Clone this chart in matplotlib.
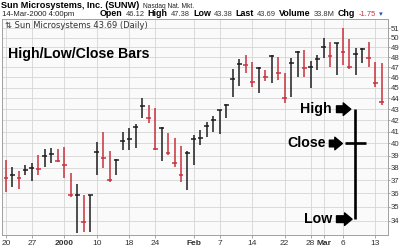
import matplotlib
matplotlib.use('Agg')
import matplotlib.pyplot as plt
from matplotlib.ticker import FixedLocator, NullLocator, NullFormatter

# daily high / low / close, Dec 20 1999 .. Mar 14 2000 (trading days)
highs = [38.65, 38.07, 37.72, 38.23, 38.37, 39.03, 39.57, 39.66, 39.57, 39.70,
         37.62, 36.75, 35.85, 35.90, 40.16, 40.95, 39.35, 38.74, 41.00, 41.30,
         41.66, 44.00, 43.37, 43.07, 41.39, 40.92, 40.44, 39.77, 39.35, 40.73,
         41.14, 41.86, 42.43, 42.97, 43.50, 46.77, 47.77, 48.20, 47.50, 47.03,
         46.70, 48.20, 48.03, 46.38, 47.87, 48.65, 48.72, 47.63, 48.25, 49.93,
         49.58, 49.47, 51.00, 49.85, 48.90, 48.90, 49.58, 47.50, 47.38]
lows = [36.10, 36.50, 36.37, 37.46, 36.97, 37.40, 38.07, 38.36, 38.44, 37.20,
        35.75, 33.10, 33.20, 33.20, 37.40, 37.98, 36.88, 37.40, 39.43, 39.43,
        39.65, 42.20, 41.73, 39.43, 38.56, 39.05, 38.07, 36.88, 36.23, 38.20,
        39.90, 40.56, 40.98, 40.84, 42.25, 44.10, 45.15, 46.40, 45.05, 44.47,
        45.63, 45.40, 45.72, 43.60, 44.10, 46.05, 46.05, 44.93, 46.70, 47.87,
        47.03, 46.19, 47.20, 46.77, 46.20, 47.40, 47.03, 45.05, 43.38]
closes = [37.17, 37.40, 37.20, 37.86, 37.96, 37.90, 38.95, 39.10, 38.56, 38.20,
          35.85, 35.90, 33.93, 35.90, 39.26, 38.80, 37.06, 38.66, 40.20, 40.37,
          41.43, 43.30, 42.17, 39.50, 41.30, 39.20, 38.40, 37.46, 39.20, 40.37,
          40.50, 41.48, 42.00, 42.90, 43.37, 45.80, 47.30, 47.20, 45.55, 46.87,
          46.05, 48.10, 46.38, 44.00, 47.37, 48.49, 46.87, 47.03, 47.77, 49.05,
          48.10, 49.41, 48.55, 47.03, 48.30, 48.80, 47.95, 45.44, 43.69]
prev_close = 37.50

tick_days = [0, 4, 9, 14, 19, 23, 29, 33, 38, 43, 47, 49, 52, 57]
tick_labels = ['20', '27', '2000', '10', '18', '24', 'Feb', '7', '14', '22', '28', 'Mar', '6', '13']
bold_labels = ['2000', 'Feb', 'Mar']
price_ticks = list(range(34, 52))

# example bar
ex_high, ex_close, ex_low = 43, 40, 34.1

RED = '#c8323c'
BLK = '#1e1e1e'
FONT = ['Liberation Sans', 'DejaVu Sans']

fig = plt.figure(figsize=(4, 2.5), dpi=100)
ax = fig.add_axes([2/400, 15/250, 385.7/400, 216/250])
ax.set_facecolor('#fafafa')

x = list(range(len(closes)))
colors = []
last = prev_close
for c in closes:
    colors.append(BLK if c >= last else RED)
    last = c

ax.vlines(x, lows, highs, colors=colors, linewidth=1.1)
ax.hlines(closes, [i - 0.38 for i in x], [i + 0.38 for i in x], colors=colors, linewidth=1.1)

ax.set_yscale('log')
ax.set_xlim(-0.62, 58.9)
ax.set_ylim(32.98, 52.01)

ax.yaxis.tick_right()
ax.yaxis.set_major_locator(FixedLocator(price_ticks))
ax.yaxis.set_minor_locator(NullLocator())
ax.yaxis.set_minor_formatter(NullFormatter())
ax.set_yticklabels([str(p) for p in price_ticks], family=FONT)
ax.set_xticks(tick_days)
ax.set_xticklabels(tick_labels, family=FONT)
for lab in ax.get_xticklabels():
    if lab.get_text() in bold_labels:
        lab.set_fontweight('bold')
ax.tick_params(axis='both', labelsize=6, length=2, width=0.6, pad=1.5,
               colors='#999999', labelcolor='#333333')
ax.tick_params(axis='y', labelsize=5.6, length=1.5, pad=0.8)
ax.grid(True, color='#d6d6d6', linewidth=0.6)
ax.set_axisbelow(True)
for s in ax.spines.values():
    s.set_color('#a0a0a0')
    s.set_linewidth(0.7)

# in-chart legend and caption
ax.text(0.008, 0.99, '\u21c5 Sun Microsystems 43.69 (Daily)', transform=ax.transAxes,
        fontsize=6.0, color='#333333', va='top', ha='left', family='DejaVu Sans')
ax.text(0.015, 0.84, 'High/Low/Close Bars', transform=ax.transAxes,
        fontsize=10.2, fontweight='bold', color='black', va='center', family=FONT)

# example bar with labels
ax.vlines(53.9, ex_low, ex_high, colors='black', linewidth=1.9)
ax.hlines(ex_close, 52.3, 55.5, colors='black', linewidth=1.9)
arrow = dict(arrowstyle='simple,head_length=0.45,head_width=0.75,tail_width=0.4',
             color='black', mutation_scale=12, shrinkA=0, shrinkB=0)
for label, y, x0, x1, xt in [('High', ex_high, 51.0, 53.2, 50.3),
                             ('Close', ex_close, 49.9, 51.9, 49.3),
                             ('Low', ex_low, 51.0, 53.4, 50.3)]:
    ax.annotate('', xy=(x1, y), xytext=(x0, y), arrowprops=arrow)
    ax.text(xt, y, label, fontsize=10.2, fontweight='bold', ha='right', va='center', family=FONT)


def chain(parts, x0, y0, gap=2.0):
    prev = None
    for txt, bold, col, size in parts:
        kw = dict(fontsize=size, fontweight='bold' if bold else 'normal', color=col,
                  family=FONT, va='bottom', ha='left', annotation_clip=False)
        if prev is None:
            prev = ax.annotate(txt, (x0, y0), xycoords='figure pixels', **kw)
        else:
            prev = ax.annotate(txt, (1, 0), xycoords=prev, xytext=(gap, 0),
                               textcoords='offset points', **kw)


# header lines
chain([('Sun Microsystems, Inc. (SUNW)', True, 'black', 6.6),
       ('Nasdaq Nat. Mkt.', False, '#222222', 4.8)], 1, 240, gap=3)
chain([('14-Mar-2000 4:00pm', False, '#222222', 5.6)], 2, 232)
chain([('Open', True, 'black', 6.4), ('46.12', False, '#333333', 5.4),
       ('High', True, 'black', 6.4), ('47.38', False, '#333333', 5.4),
       ('Low', True, 'black', 6.4), ('43.38', False, '#333333', 5.4),
       ('Last', True, 'black', 6.4), ('43.69', False, '#333333', 5.4),
       ('Volume', True, 'black', 6.4), ('33.8M', False, '#333333', 5.4),
       ('Chg', True, 'black', 6.4), ('-1.75', False, '#c8323c', 5.4),
       ('\u25be', False, '#3050c0', 5.4)], 100, 232, gap=2.2)

plt.savefig('out.png', dpi=100)
